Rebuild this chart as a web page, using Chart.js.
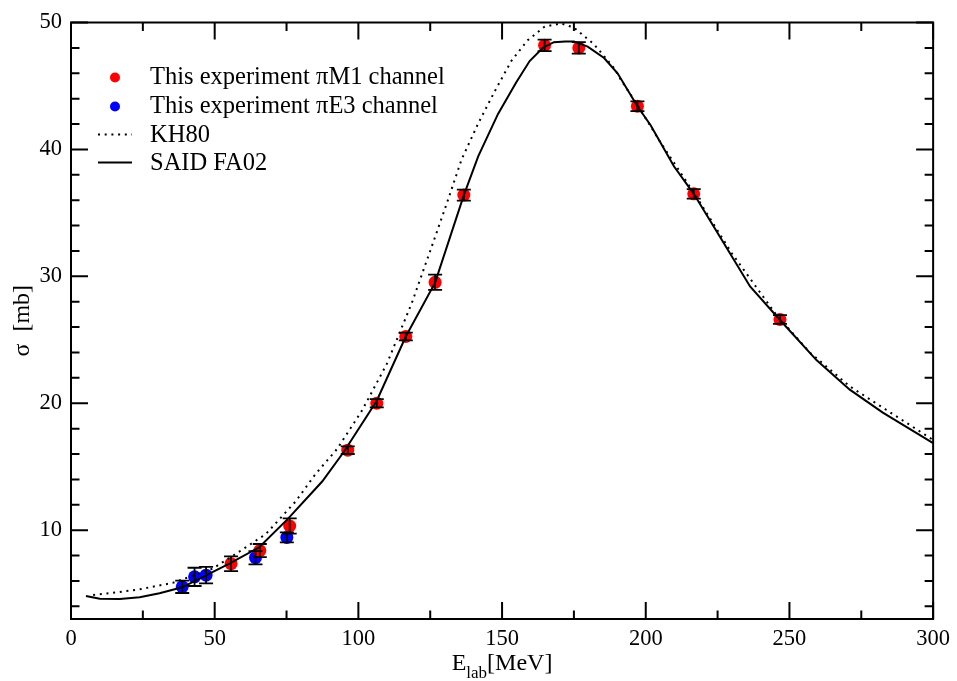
<!DOCTYPE html>
<html>
<head>
<meta charset="utf-8">
<title>pi cross section</title>
<script src="https://cdn.jsdelivr.net/npm/chart.js@4.4.1/dist/chart.umd.min.js"></script>
<style>
  html, body { margin: 0; padding: 0; background: #fff; }
  canvas { display: block; }
</style>
</head>
<body>
<canvas id="myChart" width="957" height="681"></canvas>
<script>
// measured points, pi M1 channel
var m1E = [55.7, 65.7, 76.1, 96.3, 106.4, 116.5, 126.7, 136.7, 164.8, 176.7, 197.1, 216.7, 246.7]
var m1Sigma = [7.36, 8.39, 10.33, 16.3, 20.0, 25.26, 29.53, 36.4, 48.2, 48.0, 43.4, 36.5, 26.6]
var m1Err = [0.58, 0.52, 0.6, 0.3, 0.33, 0.3, 0.6, 0.43, 0.45, 0.45, 0.39, 0.37, 0.35]

// measured points, pi E3 channel
var e3E = [38.7, 43.0, 47.0, 64.2, 75.1]
var e3Sigma = [5.54, 6.32, 6.45, 7.83, 9.43]
var e3Err = [0.49, 0.72, 0.65, 0.52, 0.39]

// KH80 prediction
var khE = [7.7, 13.5, 23.9, 35.4, 49.3, 57.4, 67.8, 78.2, 85, 92.6, 101.2, 109.9, 118.6, 126.7, 131.3, 135.9,
  141.7, 147.5, 153.2, 158.9, 164.8, 170.5, 175, 181.9, 185.5, 189, 191.3, 197.1, 205, 216.7, 230, 245,
  257.1, 271, 282.5, 294.1, 300]
var khSigma = [4.9, 5.03, 5.34, 5.85, 6.97, 8.14, 9.69, 12.27, 14.4, 16.4, 19.4, 23.1, 27.9, 33.1, 36.1, 39.2,
  42.05, 44.6, 46.96, 48.6, 49.67, 49.93, 49.6, 48.3, 47.35, 46.4, 45.5, 43.5, 40.6, 36.6, 31.8, 27.1,
  24.0, 21.33, 19.65, 17.97, 17.1]

// SAID FA02 prediction
var saidE = [5.2, 10, 17, 23.9, 30.8, 38.7, 55.1, 65.5, 75.3, 87.4, 94.9, 106.4, 116.5, 126.7, 136.7, 141.7,
  148.6, 154.9, 159.6, 164.2, 168, 172, 175, 179.8, 185.5, 190.2, 197.1, 201.7, 209.8, 216.7, 224.8, 236.3,
  246.7, 259.4, 271, 282.5, 300]
var saidSigma = [4.82, 4.59, 4.57, 4.72, 5.03, 5.5, 7.36, 8.65, 10.85, 13.83, 16.16, 20.2, 25.26, 29.5, 36.4, 39.45,
  42.8, 45.27, 46.96, 48.0, 48.45, 48.5, 48.5, 48.1, 47.2, 46.0, 43.4, 41.9, 38.67, 36.5, 33.5, 29.2,
  26.56, 23.4, 21.07, 19.26, 16.85]

var xTicks = [0, 50, 100, 150, 200, 250, 300]
var yTicks = [10, 20, 30, 40, 50]

var FONT = "'Liberation Serif', 'Times New Roman', serif"

function pairs(xs, ys) {
  return xs.map(function (x, i) { return { x: x, y: ys[i] } })
}

// error bars, drawn over the markers
var errorBars = {
  id: 'errorBars',
  afterDatasetsDraw: function (chart) {
    var ctx = chart.ctx
    var xs = chart.scales.x, ys = chart.scales.y
    ctx.save()
    ctx.strokeStyle = '#000'
    ctx.lineWidth = 1.8
    chart.data.datasets.forEach(function (ds) {
      if (!ds.errors) return
      ds.data.forEach(function (p, i) {
        var px = xs.getPixelForValue(p.x)
        var top = ys.getPixelForValue(p.y + ds.errors[i])
        var bot = ys.getPixelForValue(p.y - ds.errors[i])
        ctx.beginPath()
        ctx.moveTo(px, top); ctx.lineTo(px, bot)
        ctx.moveTo(px - 7, top); ctx.lineTo(px + 7, top)
        ctx.moveTo(px - 7, bot); ctx.lineTo(px + 7, bot)
        ctx.stroke()
      })
    })
    ctx.restore()
  }
}

// box frame with inward ticks on all sides, axis titles and legend
var frame = {
  id: 'frame',
  afterDraw: function (chart) {
    var ctx = chart.ctx
    var a = chart.chartArea
    var xs = chart.scales.x, ys = chart.scales.y
    ctx.save()
    ctx.strokeStyle = '#000'
    ctx.lineWidth = 2
    ctx.strokeRect(a.left, a.top, a.right - a.left, a.bottom - a.top)

    ctx.beginPath()
    for (var v = 0; v <= 300; v += 25) {
      var px = xs.getPixelForValue(v)
      var len = v % 50 === 0 ? 17 : 8.5
      ctx.moveTo(px, a.bottom); ctx.lineTo(px, a.bottom - len)
      ctx.moveTo(px, a.top); ctx.lineTo(px, a.top + len)
    }
    for (var w = 4; w <= 50; w += 2) {
      var py = ys.getPixelForValue(w)
      var l2 = w % 10 === 0 ? 17 : 8.5
      ctx.moveTo(a.left, py); ctx.lineTo(a.left + l2, py)
      ctx.moveTo(a.right, py); ctx.lineTo(a.right - l2, py)
    }
    ctx.stroke()

    // x title with subscript
    ctx.fillStyle = '#000'
    ctx.textBaseline = 'alphabetic'
    ctx.textAlign = 'left'
    var big = '24px ' + FONT, small = '17px ' + FONT
    ctx.font = big
    var wE = ctx.measureText('E').width
    var wU = ctx.measureText('[MeV]').width
    ctx.font = small
    var wS = ctx.measureText('lab').width
    var x0 = (a.left + a.right) / 2 - (wE + wS + wU) / 2
    ctx.font = big
    ctx.fillText('E', x0, 670)
    ctx.font = small
    ctx.fillText('lab', x0 + wE, 678)
    ctx.font = big
    ctx.fillText('[MeV]', x0 + wE + wS, 670)

    // y title
    ctx.save()
    ctx.translate(29, (a.top + a.bottom) / 2)
    ctx.rotate(-Math.PI / 2)
    ctx.textAlign = 'center'
    ctx.font = big
    ctx.fillText('σ  [mb]', 0, 0)
    ctx.restore()

    // legend
    var rows = [83.5, 112.5, 141.5, 169.5]
    var legendFont = '24.5px ' + FONT
    chart.data.datasets.forEach(function (ds, i) {
      var base = rows[i]
      ctx.save()
      if (ds.showLine) {
        ctx.strokeStyle = ds.borderColor
        ctx.lineWidth = ds.borderWidth
        ctx.setLineDash(ds.borderDash || [])
        ctx.beginPath()
        ctx.moveTo(98, base - 7); ctx.lineTo(132, base - 7)
        ctx.stroke()
      } else {
        ctx.fillStyle = ds.backgroundColor
        ctx.beginPath()
        ctx.arc(115, base - 6, 5, 0, Math.PI * 2)
        ctx.fill()
      }
      ctx.restore()
      ctx.font = legendFont
      ctx.fillText(ds.label, 150, base)
    })
    ctx.restore()
  }
}

var ctx = document.getElementById('myChart').getContext('2d')
var chart = new Chart(ctx, {
  type: 'scatter',
  data: {
    datasets: [{
      label: 'This experiment πM1 channel',
      data: pairs(m1E, m1Sigma),
      errors: m1Err,
      backgroundColor: 'rgb(255, 0, 0)',
      borderWidth: 0,
      pointRadius: 6.5,
      order: 2
    }, {
      label: 'This experiment πE3 channel',
      data: pairs(e3E, e3Sigma),
      errors: e3Err,
      backgroundColor: 'rgb(0, 0, 255)',
      borderWidth: 0,
      pointRadius: 6.5,
      order: 2
    }, {
      label: 'KH80',
      data: pairs(khE, khSigma),
      showLine: true,
      borderColor: '#000',
      borderWidth: 2,
      borderDash: [2, 4.7],
      pointRadius: 0,
      tension: 0,
      order: 1
    }, {
      label: 'SAID FA02',
      data: pairs(saidE, saidSigma),
      showLine: true,
      borderColor: '#000',
      borderWidth: 2,
      pointRadius: 0,
      tension: 0,
      order: 1
    }]
  },
  options: {
    responsive: false,
    animation: false,
    devicePixelRatio: 1,
    layout: { padding: { top: 14, right: 20, left: 0, bottom: 0 } },
    plugins: { legend: { display: false }, tooltip: { enabled: false } },
    scales: {
      x: {
        type: 'linear',
        min: 0,
        max: 300,
        grid: { display: false, drawTicks: false },
        border: { display: false },
        afterBuildTicks: function (s) { s.ticks = xTicks.map(function (v) { return { value: v } }) },
        afterFit: function (s) { s.height = 62 },
        ticks: { color: '#000', padding: 7, maxRotation: 0, font: { family: FONT, size: 22.5 } }
      },
      y: {
        type: 'linear',
        min: 3,
        max: 50,
        grid: { display: false, drawTicks: false },
        border: { display: false },
        afterBuildTicks: function (s) { s.ticks = yTicks.map(function (v) { return { value: v } }) },
        afterFit: function (s) { s.width = 71 },
        ticks: { color: '#000', padding: 9, font: { family: FONT, size: 22.5 } }
      }
    }
  },
  plugins: [errorBars, frame]
})
</script>
</body>
</html>
